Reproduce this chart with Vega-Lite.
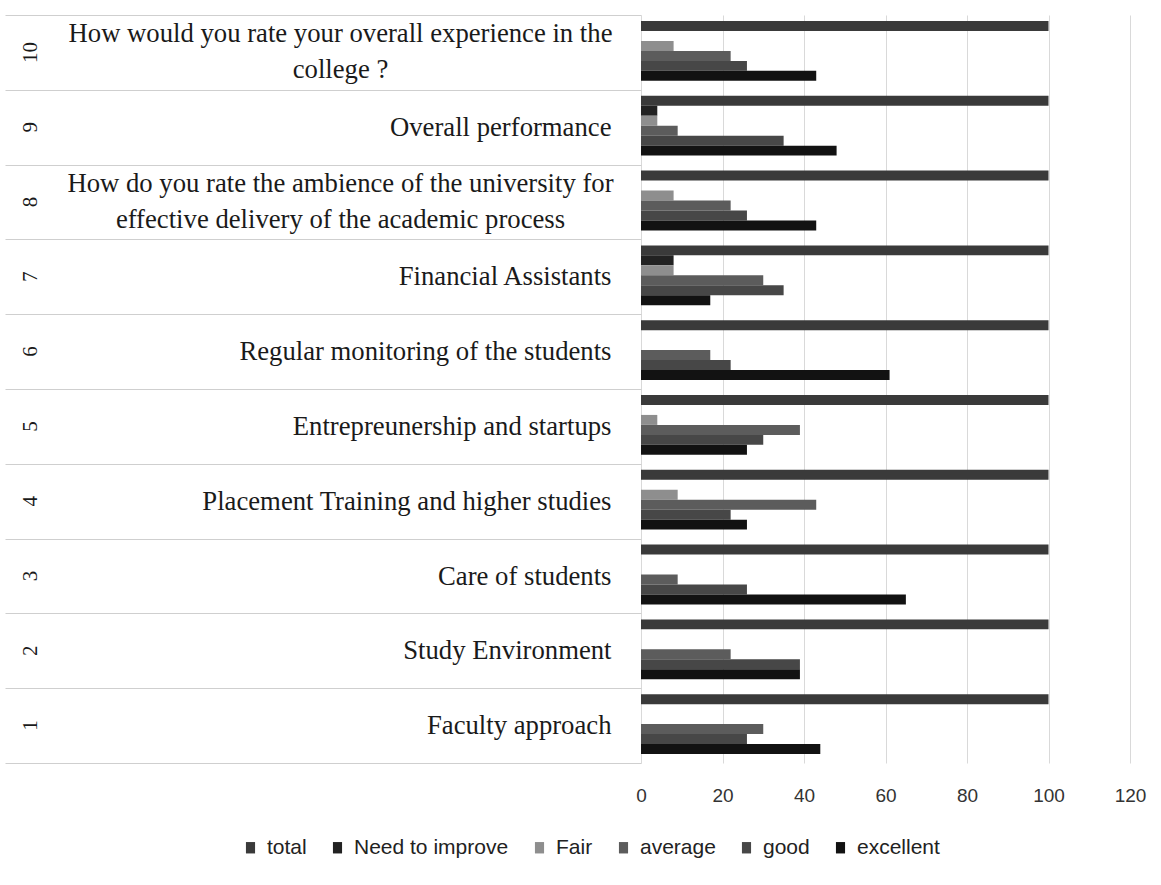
{
  "$schema": "https://vega.github.io/schema/vega-lite/v6.json",
  "width": 489,
  "height": 748,
  "autosize": "none",
  "padding": {"left": 641, "top": 15, "right": 31, "bottom": 122},
  "background": "white",
  "config": {"view": {"stroke": null}},
  "datasets": {
    "rows": [
      {"no": 10, "question": "How would you rate your overall experience in the\ncollege ?", "series": "total", "value": 100},
      {"no": 10, "question": "How would you rate your overall experience in the\ncollege ?", "series": "Need to improve", "value": 0},
      {"no": 10, "question": "How would you rate your overall experience in the\ncollege ?", "series": "Fair", "value": 8},
      {"no": 10, "question": "How would you rate your overall experience in the\ncollege ?", "series": "average", "value": 22},
      {"no": 10, "question": "How would you rate your overall experience in the\ncollege ?", "series": "good", "value": 26},
      {"no": 10, "question": "How would you rate your overall experience in the\ncollege ?", "series": "excellent", "value": 43},
      {"no": 9, "question": "Overall performance", "series": "total", "value": 100},
      {"no": 9, "question": "Overall performance", "series": "Need to improve", "value": 4},
      {"no": 9, "question": "Overall performance", "series": "Fair", "value": 4},
      {"no": 9, "question": "Overall performance", "series": "average", "value": 9},
      {"no": 9, "question": "Overall performance", "series": "good", "value": 35},
      {"no": 9, "question": "Overall performance", "series": "excellent", "value": 48},
      {"no": 8, "question": "How do you rate the ambience of the university for\neffective delivery of the academic process", "series": "total", "value": 100},
      {"no": 8, "question": "How do you rate the ambience of the university for\neffective delivery of the academic process", "series": "Need to improve", "value": 0},
      {"no": 8, "question": "How do you rate the ambience of the university for\neffective delivery of the academic process", "series": "Fair", "value": 8},
      {"no": 8, "question": "How do you rate the ambience of the university for\neffective delivery of the academic process", "series": "average", "value": 22},
      {"no": 8, "question": "How do you rate the ambience of the university for\neffective delivery of the academic process", "series": "good", "value": 26},
      {"no": 8, "question": "How do you rate the ambience of the university for\neffective delivery of the academic process", "series": "excellent", "value": 43},
      {"no": 7, "question": "Financial Assistants", "series": "total", "value": 100},
      {"no": 7, "question": "Financial Assistants", "series": "Need to improve", "value": 8},
      {"no": 7, "question": "Financial Assistants", "series": "Fair", "value": 8},
      {"no": 7, "question": "Financial Assistants", "series": "average", "value": 30},
      {"no": 7, "question": "Financial Assistants", "series": "good", "value": 35},
      {"no": 7, "question": "Financial Assistants", "series": "excellent", "value": 17},
      {"no": 6, "question": "Regular monitoring of the students", "series": "total", "value": 100},
      {"no": 6, "question": "Regular monitoring of the students", "series": "Need to improve", "value": 0},
      {"no": 6, "question": "Regular monitoring of the students", "series": "Fair", "value": 0},
      {"no": 6, "question": "Regular monitoring of the students", "series": "average", "value": 17},
      {"no": 6, "question": "Regular monitoring of the students", "series": "good", "value": 22},
      {"no": 6, "question": "Regular monitoring of the students", "series": "excellent", "value": 61},
      {"no": 5, "question": "Entrepreunership and startups", "series": "total", "value": 100},
      {"no": 5, "question": "Entrepreunership and startups", "series": "Need to improve", "value": 0},
      {"no": 5, "question": "Entrepreunership and startups", "series": "Fair", "value": 4},
      {"no": 5, "question": "Entrepreunership and startups", "series": "average", "value": 39},
      {"no": 5, "question": "Entrepreunership and startups", "series": "good", "value": 30},
      {"no": 5, "question": "Entrepreunership and startups", "series": "excellent", "value": 26},
      {"no": 4, "question": "Placement Training and higher studies", "series": "total", "value": 100},
      {"no": 4, "question": "Placement Training and higher studies", "series": "Need to improve", "value": 0},
      {"no": 4, "question": "Placement Training and higher studies", "series": "Fair", "value": 9},
      {"no": 4, "question": "Placement Training and higher studies", "series": "average", "value": 43},
      {"no": 4, "question": "Placement Training and higher studies", "series": "good", "value": 22},
      {"no": 4, "question": "Placement Training and higher studies", "series": "excellent", "value": 26},
      {"no": 3, "question": "Care of students", "series": "total", "value": 100},
      {"no": 3, "question": "Care of students", "series": "Need to improve", "value": 0},
      {"no": 3, "question": "Care of students", "series": "Fair", "value": 0},
      {"no": 3, "question": "Care of students", "series": "average", "value": 9},
      {"no": 3, "question": "Care of students", "series": "good", "value": 26},
      {"no": 3, "question": "Care of students", "series": "excellent", "value": 65},
      {"no": 2, "question": "Study Environment", "series": "total", "value": 100},
      {"no": 2, "question": "Study Environment", "series": "Need to improve", "value": 0},
      {"no": 2, "question": "Study Environment", "series": "Fair", "value": 0},
      {"no": 2, "question": "Study Environment", "series": "average", "value": 22},
      {"no": 2, "question": "Study Environment", "series": "good", "value": 39},
      {"no": 2, "question": "Study Environment", "series": "excellent", "value": 39},
      {"no": 1, "question": "Faculty approach", "series": "total", "value": 100},
      {"no": 1, "question": "Faculty approach", "series": "Need to improve", "value": 0},
      {"no": 1, "question": "Faculty approach", "series": "Fair", "value": 0},
      {"no": 1, "question": "Faculty approach", "series": "average", "value": 30},
      {"no": 1, "question": "Faculty approach", "series": "good", "value": 26},
      {"no": 1, "question": "Faculty approach", "series": "excellent", "value": 44}
    ]
  },
  "data": {"name": "rows"},
  "transform": [{"calculate": "datum.no + '|' + datum.question", "as": "key"}],
  "encoding": {
    "x": {
      "field": "value",
      "type": "quantitative",
      "scale": {"domain": [0, 120], "nice": false},
      "axis": {
        "title": null,
        "orient": "bottom",
        "domain": false,
        "ticks": false,
        "grid": true,
        "gridColor": "#d9d9d9",
        "gridWidth": 1,
        "values": [0, 20, 40, 60, 80, 100, 120],
        "labelFont": "Liberation Sans",
        "labelFontSize": 19,
        "labelColor": "#333333",
        "labelPadding": 23,
        "labelFlush": false
      }
    }
  },
  "layer": [
    {
      "mark": {"type": "bar"},
      "encoding": {
        "y": {
          "field": "key",
          "type": "nominal",
          "sort": {"field": "no", "op": "max", "order": "descending"},
          "scale": {"paddingInner": 0, "paddingOuter": 0},
          "axis": {
            "orient": "left",
            "title": null,
            "domain": false,
            "ticks": true,
            "tickBand": "extent",
            "tickSize": 636,
            "tickColor": "#cfcfcf",
            "tickWidth": 1,
            "labelPadding": -606,
            "labelAlign": "right",
            "labelBaseline": "middle",
            "labelFont": "Liberation Serif",
            "labelFontSize": 26.7,
            "labelColor": "#1a1a1a",
            "labelLimit": 1000,
            "labelExpr": "isString(datum.value) && indexof(split(datum.value, '|')[1], '\\n') < 0 ? split(datum.value, '|')[1] : ''"
          }
        },
        "yOffset": {
          "field": "series",
          "type": "nominal",
          "sort": ["total", "Need to improve", "Fair", "average", "good", "excellent"],
          "scale": {"paddingInner": 0, "paddingOuter": 0.75, "align": 0.4}
        },
        "color": {
          "field": "series",
          "type": "nominal",
          "scale": {
            "domain": ["total", "Need to improve", "Fair", "average", "good", "excellent"],
            "range": ["#3a3a3a", "#222222", "#8e8e8e", "#5c5c5c", "#474747", "#121212"]
          },
          "legend": {
            "orient": "none",
            "legendX": -401,
            "legendY": 822,
            "direction": "horizontal",
            "columns": 6,
            "title": null,
            "symbolType": "M-0.8,-1H0.8V1H-0.8Z",
            "symbolSize": 130,
            "symbolStrokeWidth": 0,
            "labelFont": "Liberation Sans",
            "labelFontSize": 21,
            "labelColor": "#222222",
            "labelOffset": 6,
            "columnPadding": 20,
            "labelLimit": 400
          }
        }
      }
    },
    {
      "mark": {"type": "bar", "opacity": 0},
      "encoding": {
        "y": {
          "field": "key",
          "type": "nominal",
          "sort": {"field": "no", "op": "max", "order": "descending"},
          "scale": {"paddingInner": 0, "paddingOuter": 0},
          "axis": {
            "orient": "left",
            "title": null,
            "domain": false,
            "ticks": false,
            "labelPadding": 301,
            "labelAlign": "center",
            "labelBaseline": "middle",
            "labelLineHeight": 36,
            "labelOffset": -18,
            "labelFont": "Liberation Serif",
            "labelFontSize": 26.7,
            "labelColor": "#1a1a1a",
            "labelLimit": 1000,
            "labelExpr": "isString(datum.value) && indexof(split(datum.value, '|')[1], '\\n') >= 0 ? split(split(datum.value, '|')[1], '\\n') : ''"
          }
        }
      }
    },
    {
      "mark": {"type": "bar", "opacity": 0},
      "encoding": {
        "y": {
          "field": "key",
          "type": "nominal",
          "sort": {"field": "no", "op": "max", "order": "descending"},
          "scale": {"paddingInner": 0, "paddingOuter": 0},
          "axis": {
            "orient": "left",
            "title": null,
            "domain": false,
            "ticks": false,
            "labelPadding": 611,
            "labelAngle": -90,
            "labelAlign": "center",
            "labelBaseline": "middle",
            "labelFont": "Liberation Serif",
            "labelFontSize": 21,
            "labelColor": "#1a1a1a",
            "labelExpr": "isString(datum.value) ? split(datum.value, '|')[0] : ''"
          }
        }
      }
    }
  ],
  "resolve": {"axis": {"y": "independent"}}
}
